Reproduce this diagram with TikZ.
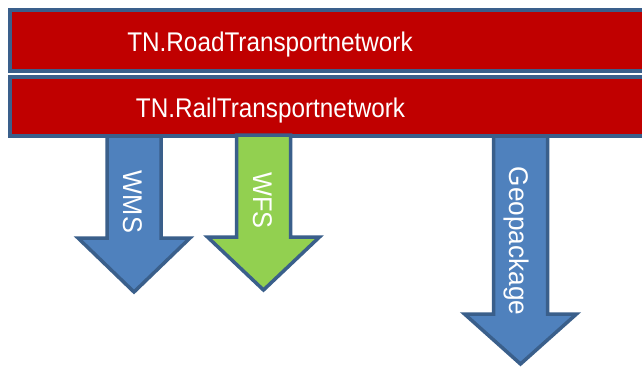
\documentclass[tikz,border=0pt]{standalone}
\usepackage{fontspec}
\setmainfont{Liberation Sans}
\definecolor{boxred}{HTML}{C00000}
\definecolor{edgeblue}{HTML}{3A5F8B}
\definecolor{fillblue}{HTML}{4F81BD}
\definecolor{fillgreen}{HTML}{92D050}
\begin{document}
\begin{tikzpicture}[x=1pt,y=-1pt,
  band/.style={fill=boxred,draw=edgeblue,line width=3.5pt},
  downarrow/.style={draw=edgeblue,line width=3.5pt,line join=miter},
  lbl/.style={text=white,inner sep=0pt,font=\fontsize{27}{30}\selectfont},
  vlbl/.style={lbl,rotate=-90,anchor=base}]
\useasboundingbox (0,0) rectangle (642,369);
\fill[white] (0,0) rectangle (642,369);
% bands
\draw[band] (10,10) rectangle (660,71);
\draw[band] (10,77) rectangle (660,136);
\node[lbl,anchor=base] (road) at (270,51.5) {\scalebox{0.9}[1]{TN.RoadTransportnetwork}};
\node[lbl,anchor=base] (rail) at (270.5,117) {\scalebox{0.9}[1]{TN.RailTransportnetwork}};
% arrows
\draw[downarrow,fill=fillblue] (107,136) -- (107,238) -- (78,238) -- (134,292) -- (190,238) -- (161,238) -- (161,136) -- cycle;
\draw[downarrow,fill=fillgreen] (236.5,135) -- (236.5,237) -- (207.5,237) -- (263.5,290) -- (319.5,237) -- (290.5,237) -- (290.5,135) -- cycle;
\draw[downarrow,fill=fillblue] (493.5,136) -- (493.5,314) -- (464.5,314) -- (520.5,364) -- (576.5,314) -- (547.5,314) -- (547.5,136) -- cycle;
\node[vlbl] (wms) at (123,202) {\scalebox{0.94}[1]{WMS}};
\node[vlbl] (wfs) at (253,200.5) {\scalebox{0.94}[1]{WFS}};
\node[vlbl] (geo) at (509.5,241) {\scalebox{0.97}[1]{Geopackage}};
\end{tikzpicture}
\end{document}
